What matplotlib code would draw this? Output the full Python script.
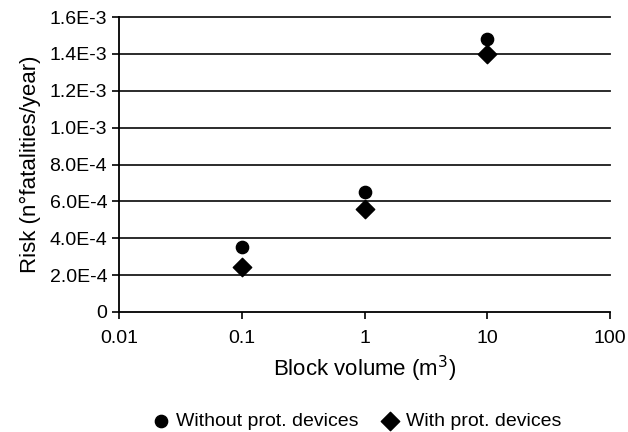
import matplotlib
matplotlib.use('Agg')
import matplotlib.pyplot as plt
from matplotlib.ticker import FixedLocator, NullLocator

plt.rcParams['font.family'] = ['Liberation Sans', 'DejaVu Sans']

# Datos
volume = [0.1, 1, 10]
risk_without = [3.5e-4, 6.5e-4, 1.48e-3]
risk_with = [2.45e-4, 5.6e-4, 1.4e-3]
y_ticks = [0, 2e-4, 4e-4, 6e-4, 8e-4, 1e-3, 1.2e-3, 1.4e-3, 1.6e-3]
y_labels = ['0', '2.0E-4', '4.0E-4', '6.0E-4', '8.0E-4', '1.0E-3', '1.2E-3', '1.4E-3', '1.6E-3']
x_ticks = [0.01, 0.1, 1, 10, 100]
x_labels = ['0.01', '0.1', '1', '10', '100']

fig = plt.figure(figsize=(6.28, 4.32), dpi=100)
ax = fig.add_axes([119 / 628, 1 - 312 / 432, (610 - 119) / 628, (312 - 17) / 432])

ax.set_xscale('log')
ax.set_xlim(0.01, 100)
ax.set_ylim(0, 1.6e-3)

# lineas horizontales de la grilla
for y in y_ticks[1:]:
    ax.axhline(y, color='#1a1a1a', lw=1.3, zorder=1, clip_on=False)

ax.scatter(volume, risk_without, marker='o', s=78, color='black', zorder=3,
           label='Without prot. devices')
ax.scatter(volume, risk_with, marker='D', s=88, color='black', zorder=3,
           label='With prot. devices')

ax.set_yticks(y_ticks)
ax.set_yticklabels(y_labels)
ax.xaxis.set_major_locator(FixedLocator(x_ticks))
ax.set_xticklabels(x_labels)
ax.xaxis.set_minor_locator(NullLocator())
ax.tick_params(axis='both', labelsize=14, direction='out', length=5, width=1.2, color='black')
ax.tick_params(axis='y', pad=3.5)
ax.tick_params(axis='x', pad=8)

for s in ['top', 'right']:
    ax.spines[s].set_visible(False)
for s in ['left', 'bottom']:
    ax.spines[s].set_linewidth(1.3)

ax.set_xlabel('Block volume (m$^3$)', fontsize=16, labelpad=5)
ax.set_ylabel('Risk (n°fatalities/year)', fontsize=16, labelpad=6)

fig.legend(loc='center', bbox_to_anchor=(356 / 628, 1 - 421 / 432), ncol=2, frameon=False,
           fontsize=14, handlelength=1.0, handletextpad=0.3, columnspacing=1.1,
           borderpad=0)

fig.savefig('out.png', dpi=100)
